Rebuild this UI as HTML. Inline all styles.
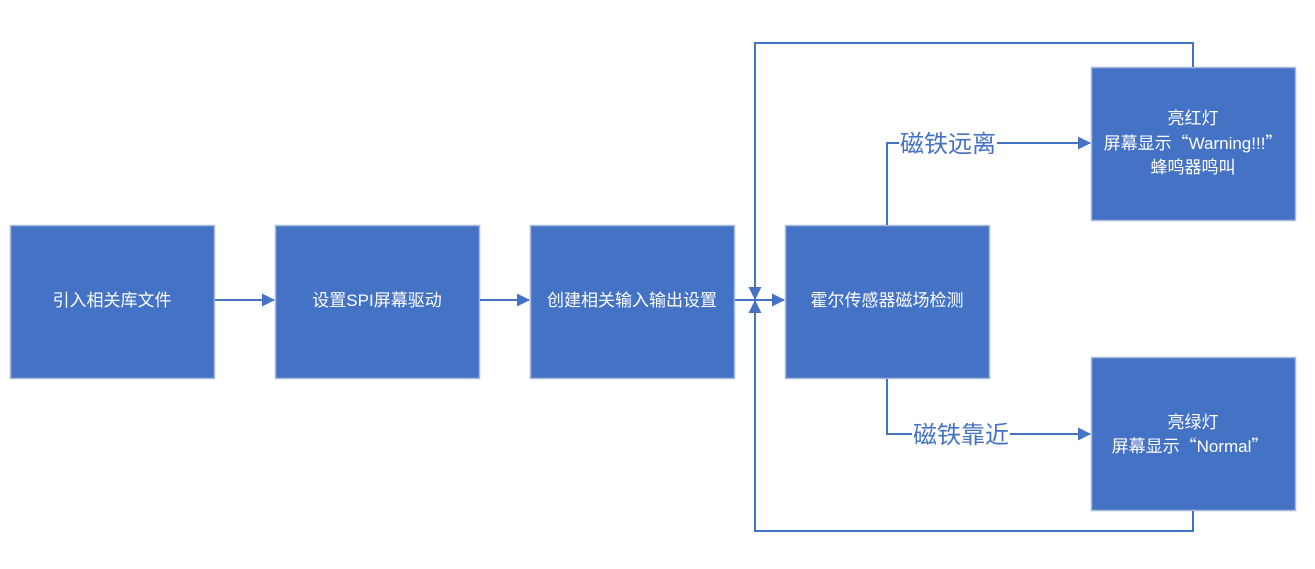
<!DOCTYPE html>
<html><head><meta charset="utf-8"><style>
html,body{margin:0;padding:0;background:#fff;}
svg{display:block;}
text{font-family:"Liberation Sans","Noto Sans CJK SC",sans-serif;}
.q{font-family:"Noto Sans CJK SC",sans-serif;}
</style></head><body>
<svg width="1315" height="569" viewBox="0 0 1315 569" xmlns="http://www.w3.org/2000/svg">
<defs>
<marker id="a" markerWidth="13" markerHeight="13" refX="12" refY="6.5" orient="auto" markerUnits="userSpaceOnUse">
<path d="M0,0 L13,6.5 L0,13 z" fill="#4472C4"/></marker>
</defs>
<g fill="#4472C4" stroke="#A9B9D9" stroke-width="1.5">
<rect x="10.5" y="225.5" width="204" height="153"/>
<rect x="275.5" y="225.5" width="204" height="153"/>
<rect x="530.5" y="225.5" width="204" height="153"/>
<rect x="785.5" y="225.5" width="204" height="153"/>
<rect x="1091.5" y="67.5" width="204" height="153"/>
<rect x="1091.5" y="357.5" width="204" height="153"/>
</g>
<g stroke="#4472C4" stroke-width="2" fill="none">
<line x1="215" y1="300" x2="274" y2="300" marker-end="url(#a)"/>
<line x1="480" y1="300" x2="529" y2="300" marker-end="url(#a)"/>
<line x1="735" y1="300" x2="784" y2="300" marker-end="url(#a)"/>
<polyline points="1193,67 1193,43 755,43 755,299" marker-end="url(#a)"/>
<polyline points="1193,511 1193,531 755,531 755,301" marker-end="url(#a)"/>
<polyline points="887,225 887,143 1090,143" marker-end="url(#a)"/>
<polyline points="887,379 887,434 1090,434" marker-end="url(#a)"/>
</g>
<rect x="899" y="128" width="98" height="30" fill="#fff"/>
<rect x="912" y="419" width="98" height="30" fill="#fff"/>
<g fill="#4472C4" font-size="24" text-anchor="middle">
<text x="948" y="152">磁铁远离</text>
<text x="961" y="443">磁铁靠近</text>
</g>
<g fill="#fff" font-size="17" text-anchor="middle">
<text x="112" y="306">引入相关库文件</text>
<text x="377" y="306">设置SPI屏幕驱动</text>
<text x="632" y="306">创建相关输入输出设置</text>
<text x="887" y="306">霍尔传感器磁场检测</text>
<text x="1193" y="124">亮红灯</text>
<text x="1193" y="149">屏幕显示<tspan class="q">“</tspan>Warning!!!<tspan class="q">”</tspan></text>
<text x="1193" y="173">蜂鸣器鸣叫</text>
<text x="1193" y="428">亮绿灯</text>
<text x="1190" y="452">屏幕显示<tspan class="q">“</tspan>Normal<tspan class="q">”</tspan></text>
</g>
</svg>
</body></html>
